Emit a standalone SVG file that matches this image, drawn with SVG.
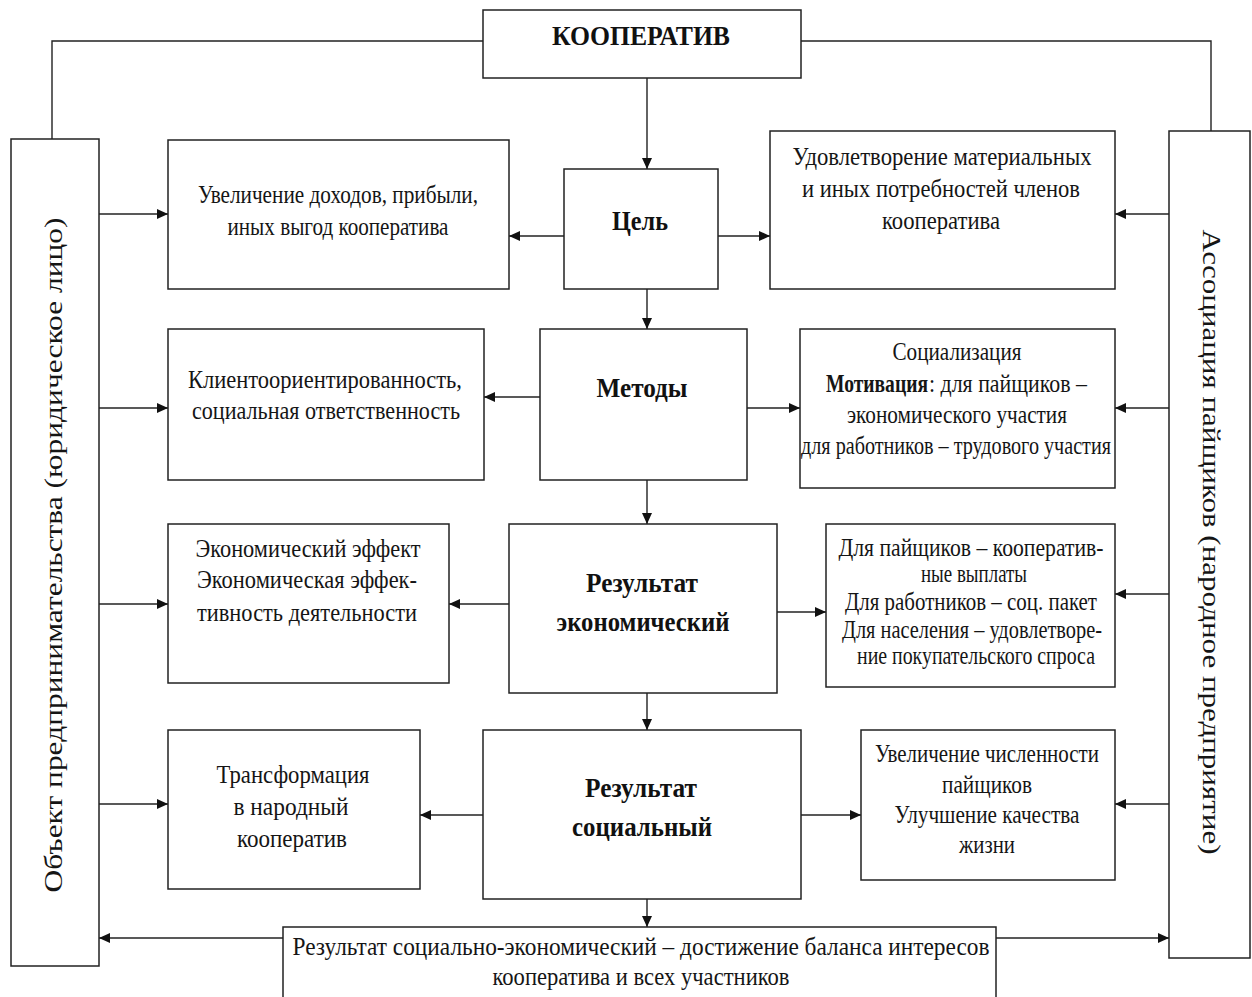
<svg xmlns="http://www.w3.org/2000/svg" width="1252" height="997" viewBox="0 0 1252 997">
<defs>
<style>
.box{fill:#fff;stroke:#222;stroke-width:1.5}
.t{font-family:"Liberation Serif","Times New Roman",serif;font-size:25px;fill:#151515;text-anchor:middle}
.s{text-anchor:start}
.b{font-family:"Liberation Serif","Times New Roman",serif;font-size:27px;font-weight:bold;fill:#111;text-anchor:middle}
.c{fill:none;stroke:#222;stroke-width:1.4}
</style>
<marker id="ah" markerUnits="userSpaceOnUse" markerWidth="12" markerHeight="10" refX="11" refY="5" orient="auto">
<path d="M0,0 L11,5 L0,10 Z" fill="#111"/>
</marker>
</defs>
<rect width="1252" height="997" fill="#fff"/>

<g id="connectors">
<polyline class="c" points="52,139 52,41 483,41"/>
<polyline class="c" points="801,41 1211,41 1211,131"/>
<line class="c" x1="647" y1="78" x2="647" y2="169" marker-end="url(#ah)"/>
<line class="c" x1="564" y1="236" x2="509" y2="236" marker-end="url(#ah)"/>
<line class="c" x1="718" y1="236" x2="770" y2="236" marker-end="url(#ah)"/>
<line class="c" x1="99" y1="214" x2="168" y2="214" marker-end="url(#ah)"/>
<line class="c" x1="1169" y1="214" x2="1115" y2="214" marker-end="url(#ah)"/>
<line class="c" x1="647" y1="289" x2="647" y2="329" marker-end="url(#ah)"/>
<line class="c" x1="540" y1="397" x2="484" y2="397" marker-end="url(#ah)"/>
<line class="c" x1="747" y1="408" x2="800" y2="408" marker-end="url(#ah)"/>
<line class="c" x1="99" y1="408" x2="168" y2="408" marker-end="url(#ah)"/>
<line class="c" x1="1169" y1="408" x2="1115" y2="408" marker-end="url(#ah)"/>
<line class="c" x1="647" y1="480" x2="647" y2="524" marker-end="url(#ah)"/>
<line class="c" x1="509" y1="604" x2="449" y2="604" marker-end="url(#ah)"/>
<line class="c" x1="777" y1="612" x2="826" y2="612" marker-end="url(#ah)"/>
<line class="c" x1="99" y1="604" x2="168" y2="604" marker-end="url(#ah)"/>
<line class="c" x1="1169" y1="594" x2="1115" y2="594" marker-end="url(#ah)"/>
<line class="c" x1="647" y1="693" x2="647" y2="730" marker-end="url(#ah)"/>
<line class="c" x1="483" y1="815" x2="420" y2="815" marker-end="url(#ah)"/>
<line class="c" x1="801" y1="815" x2="861" y2="815" marker-end="url(#ah)"/>
<line class="c" x1="99" y1="804" x2="168" y2="804" marker-end="url(#ah)"/>
<line class="c" x1="1169" y1="804" x2="1115" y2="804" marker-end="url(#ah)"/>
<line class="c" x1="647" y1="899" x2="647" y2="927" marker-end="url(#ah)"/>
<line class="c" x1="283" y1="938" x2="99" y2="938" marker-end="url(#ah)"/>
<line class="c" x1="996" y1="938" x2="1169" y2="938" marker-end="url(#ah)"/>
</g>

<g id="cooperative">
<rect class="box" x="483" y="10" width="318" height="68"/>
<text class="b" x="641" y="45" textLength="178" lengthAdjust="spacingAndGlyphs">КООПЕРАТИВ</text>
</g>

<g id="left-entity">
<rect class="box" x="11" y="139" width="88" height="827"/>
<text class="t" transform="translate(62,555) rotate(-90)" x="0" y="0" font-size="26" textLength="675" lengthAdjust="spacingAndGlyphs">Объект предпринимательства (юридическое лицо)</text>
</g>

<g id="right-association">
<rect class="box" x="1169" y="131" width="81" height="827"/>
<text class="t" transform="translate(1203,542) rotate(90)" x="0" y="0" font-size="26" textLength="625" lengthAdjust="spacingAndGlyphs">Ассоциация пайщиков (народное предприятие)</text>
</g>

<g id="goal">
<rect class="box" x="564" y="169" width="154" height="120"/>
<text class="b" x="640" y="230" textLength="56" lengthAdjust="spacingAndGlyphs">Цель</text>
</g>

<g id="goal-left">
<rect class="box" x="168" y="140" width="341" height="149"/>
<text class="t" x="338" y="203" textLength="280" lengthAdjust="spacingAndGlyphs">Увеличение доходов, прибыли,</text>
<text class="t" x="338" y="235" textLength="221" lengthAdjust="spacingAndGlyphs">иных выгод кооператива</text>
</g>

<g id="goal-right">
<rect class="box" x="770" y="131" width="345" height="158"/>
<text class="t" x="942" y="165" textLength="299" lengthAdjust="spacingAndGlyphs">Удовлетворение материальных</text>
<text class="t" x="941" y="197" textLength="278" lengthAdjust="spacingAndGlyphs">и иных потребностей членов</text>
<text class="t" x="941" y="229" textLength="118" lengthAdjust="spacingAndGlyphs">кооператива</text>
</g>

<g id="methods">
<rect class="box" x="540" y="329" width="207" height="151"/>
<text class="b" x="642" y="397" textLength="91" lengthAdjust="spacingAndGlyphs">Методы</text>
</g>

<g id="methods-left">
<rect class="box" x="168" y="329" width="316" height="151"/>
<text class="t" x="325" y="388" textLength="274" lengthAdjust="spacingAndGlyphs">Клиентоориентированность,</text>
<text class="t" x="326" y="419" textLength="268" lengthAdjust="spacingAndGlyphs">социальная ответственность</text>
</g>

<g id="methods-right">
<rect class="box" x="800" y="329" width="315" height="159"/>
<text class="t" x="957" y="360" textLength="129" lengthAdjust="spacingAndGlyphs">Социализация</text>
<text class="t s" x="826" y="392" font-weight="bold" textLength="102" lengthAdjust="spacingAndGlyphs">Мотивация</text>
<text class="t s" x="929" y="392" textLength="158" lengthAdjust="spacingAndGlyphs">: для пайщиков –</text>
<text class="t" x="957" y="423" textLength="220" lengthAdjust="spacingAndGlyphs">экономического участия</text>
<text class="t" x="956" y="454" textLength="310" lengthAdjust="spacingAndGlyphs">для работников – трудового участия</text>
</g>

<g id="result-economic">
<rect class="box" x="509" y="524" width="268" height="169"/>
<text class="b" x="642" y="592" textLength="112" lengthAdjust="spacingAndGlyphs">Результат</text>
<text class="b" x="643" y="631" textLength="173" lengthAdjust="spacingAndGlyphs">экономический</text>
</g>

<g id="economic-left">
<rect class="box" x="168" y="524" width="281" height="159"/>
<text class="t" x="308" y="557" textLength="225" lengthAdjust="spacingAndGlyphs">Экономический эффект</text>
<text class="t" x="307" y="588" textLength="220" lengthAdjust="spacingAndGlyphs">Экономическая эффек-</text>
<text class="t" x="307" y="621" textLength="220" lengthAdjust="spacingAndGlyphs">тивность деятельности</text>
</g>

<g id="economic-right">
<rect class="box" x="826" y="524" width="289" height="163"/>
<text class="t" x="971" y="556" font-size="24" textLength="265" lengthAdjust="spacingAndGlyphs">Для пайщиков – кооператив-</text>
<text class="t" x="974" y="582" font-size="24" textLength="106" lengthAdjust="spacingAndGlyphs">ные выплаты</text>
<text class="t" x="971" y="610" font-size="24" textLength="252" lengthAdjust="spacingAndGlyphs">Для работников – соц. пакет</text>
<text class="t" x="972" y="638" font-size="24" textLength="260" lengthAdjust="spacingAndGlyphs">Для населения – удовлетворе-</text>
<text class="t" x="976" y="664" font-size="24" textLength="238" lengthAdjust="spacingAndGlyphs">ние покупательского спроса</text>
</g>

<g id="result-social">
<rect class="box" x="483" y="730" width="318" height="169"/>
<text class="b" x="641" y="797" textLength="112" lengthAdjust="spacingAndGlyphs">Результат</text>
<text class="b" x="642" y="836" textLength="140" lengthAdjust="spacingAndGlyphs">социальный</text>
</g>

<g id="social-left">
<rect class="box" x="168" y="730" width="252" height="159"/>
<text class="t" x="293" y="783" textLength="153" lengthAdjust="spacingAndGlyphs">Трансформация</text>
<text class="t" x="291" y="815" textLength="115" lengthAdjust="spacingAndGlyphs">в народный</text>
<text class="t" x="292" y="847" textLength="110" lengthAdjust="spacingAndGlyphs">кооператив</text>
</g>

<g id="social-right">
<rect class="box" x="861" y="730" width="254" height="150"/>
<text class="t" x="987" y="762" textLength="224" lengthAdjust="spacingAndGlyphs">Увеличение численности</text>
<text class="t" x="987" y="793" textLength="90" lengthAdjust="spacingAndGlyphs">пайщиков</text>
<text class="t" x="987" y="823" textLength="185" lengthAdjust="spacingAndGlyphs">Улучшение качества</text>
<text class="t" x="987" y="853" textLength="56" lengthAdjust="spacingAndGlyphs">жизни</text>
</g>

<g id="result-socioeconomic">
<rect class="box" x="283" y="927" width="713" height="80"/>
<text class="t" x="641" y="955" textLength="697" lengthAdjust="spacingAndGlyphs">Результат социально-экономический – достижение баланса интересов</text>
<text class="t" x="641" y="985" textLength="297" lengthAdjust="spacingAndGlyphs">кооператива и всех участников</text>
</g>
</svg>
